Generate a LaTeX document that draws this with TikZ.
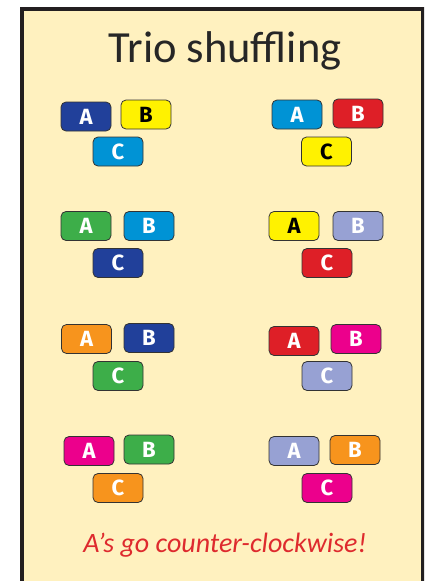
\documentclass[tikz,border=0pt]{standalone}
\usepackage{fontspec}
\setmainfont{Carlito}
\newfontfamily\boxfont{Fira Sans}
\definecolor{paper}{HTML}{FFF1BF}
\definecolor{frame}{HTML}{231F20}
\definecolor{cdblue}{HTML}{21409A}
\definecolor{cyellow}{HTML}{FFF200}
\definecolor{ccyan}{HTML}{0093D5}
\definecolor{cred}{HTML}{DE1F27}
\definecolor{cgreen}{HTML}{3DAE49}
\definecolor{clav}{HTML}{97A1D3}
\definecolor{corange}{HTML}{F7941D}
\definecolor{cmag}{HTML}{EC008C}
\definecolor{capred}{HTML}{DE2A2E}
\tikzset{
  tile/.style={draw=black!80, line width=0.8pt, rounded corners=5pt,
    minimum width=50pt, minimum height=29pt, inner sep=0pt,
    font=\boxfont\bfseries\fontsize{22}{22}\selectfont, text=white},
  dk/.style={text=black}
}
\begin{document}
\begin{tikzpicture}[x=1pt,y=-1pt]
\useasboundingbox (0,0) rectangle (424,581);
\clip (0,0) rectangle (424,581);
\fill[paper] (22,9) rectangle (423,600);
\draw[frame, line width=4pt] (22,600) -- (22,9) -- (423,9) -- (423,600);
\node[anchor=base, font=\fontsize{44.5}{44.5}\selectfont, text=black!85] (title) at (225,62) {Trio shuffling};
% row 1
\node[tile, fill=cdblue] (a1) at (86,116.5) {A};
\node[tile, fill=cyellow, dk] (b1) at (146,114.5) {B};
\node[tile, fill=ccyan] (c1) at (118,151.5) {C};
\node[tile, fill=ccyan] (a2) at (297,114.5) {A};
\node[tile, fill=cred] (b2) at (358,113.5) {B};
\node[tile, fill=cyellow, dk] (c2) at (326.5,151.5) {C};
% row 2
\node[tile, fill=cgreen] (a3) at (86,226) {A};
\node[tile, fill=ccyan] (b3) at (149,226) {B};
\node[tile, fill=cdblue] (c3) at (118,263) {C};
\node[tile, fill=cyellow, dk] (a4) at (294,226) {A};
\node[tile, fill=clav] (b4) at (358,226) {B};
\node[tile, fill=cred] (c4) at (327,263) {C};
% row 3
\node[tile, fill=corange] (a5) at (86.5,339) {A};
\node[tile, fill=cdblue] (b5) at (149,338) {B};
\node[tile, fill=cgreen] (c5) at (118,376) {C};
\node[tile, fill=cred] (a6) at (294,341) {A};
\node[tile, fill=cmag] (b6) at (356,339) {B};
\node[tile, fill=clav] (c6) at (327,376) {C};
% row 4
\node[tile, fill=cmag] (a7) at (89,451) {A};
\node[tile, fill=cgreen] (b7) at (149,449.5) {B};
\node[tile, fill=corange] (c7) at (118,488) {C};
\node[tile, fill=clav] (a8) at (294,451) {A};
\node[tile, fill=corange] (b8) at (355,450) {B};
\node[tile, fill=cmag] (c8) at (327,488) {C};
\node[anchor=base, font=\itshape\fontsize{28}{28}\selectfont, text=capred] (cap) at (225,552) {A’s go counter-clockwise!};
\end{tikzpicture}
\end{document}
